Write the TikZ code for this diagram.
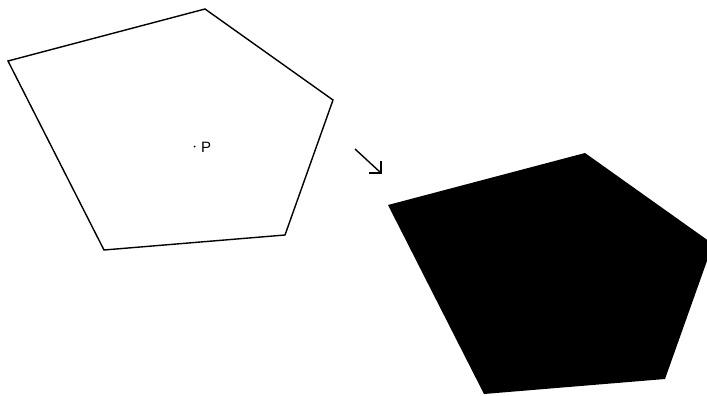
\documentclass[tikz,border=0pt]{standalone}
\usepackage{fontspec}
\setmainfont{Liberation Sans}
\begin{document}
\begin{tikzpicture}[x=1pt,y=-1pt,
  outline/.style={draw=black,line width=1.4pt,line join=miter},
  solid fill/.style={fill=black},
  arrowline/.style={draw=black,line width=1.4pt}]
\useasboundingbox (0,0) rectangle (707,396);
\clip (0,0) rectangle (707,396);
% left pentagon
\coordinate (a1) at (8,61);
\coordinate (a2) at (205,9);
\coordinate (a3) at (333,100);
\coordinate (a4) at (285,235);
\coordinate (a5) at (104,250);
\draw[outline] (a1) -- (a2) -- (a3) -- (a4) -- (a5) -- cycle;
% point P
\fill (194.5,146.5) circle (1pt);
\node[anchor=south west,inner sep=0pt,font=\fontsize{15}{17}\selectfont] (P) at (201,152.5) {P};
% arrow
\coordinate (s) at (355,149);
\coordinate (t) at (381,173);
\coordinate (h1) at (369,173);
\coordinate (h2) at (381,161);
\draw[arrowline] (s) -- (t);
\draw[arrowline,line join=miter] (h1) -- (t) -- (h2);
% right pentagon (translated copy)
\begin{scope}[shift={(380,144)}]
\coordinate (b1) at (8,61);
\coordinate (b2) at (205,9);
\coordinate (b3) at (333,100);
\coordinate (b4) at (285,235);
\coordinate (b5) at (104,250);
\fill[solid fill] (b1) -- (b2) -- (b3) -- (b4) -- (b5) -- cycle;
\end{scope}
\end{tikzpicture}
\end{document}
